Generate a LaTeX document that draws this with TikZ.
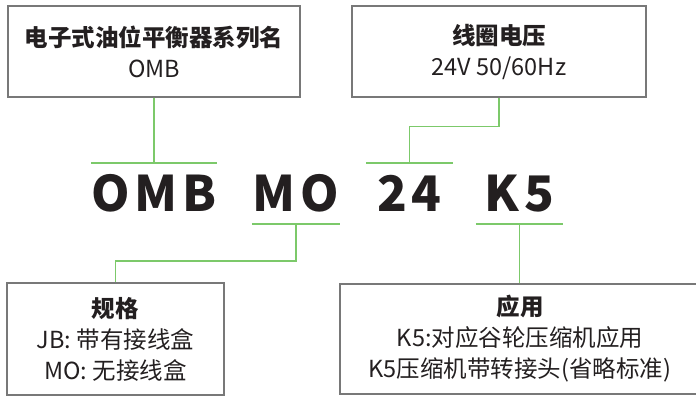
\documentclass[tikz,border=0pt]{standalone}
\usepackage{fontspec}
\setmainfont{Noto Sans CJK SC}
\usetikzlibrary{positioning,calc}
\definecolor{ink}{HTML}{231F20}
\definecolor{frame}{HTML}{787878}
\definecolor{leaf}{HTML}{7CC96A}
\newcommand{\lsp}{\hspace{0.1em}}

\begin{document}
\begin{tikzpicture}[
  x=1pt, y=-1pt,
  box/.style={
    draw=frame,
    line width=1.4pt,
    align=center,
    inner sep=0pt,
    text=ink,
    font=\fontsize{23.5}{31}\selectfont
  },
  code/.style={
    inner sep=0pt,
    minimum height=61pt,
    text=ink,
    font=\fontsize{49}{49}\selectfont\bfseries
  },
  link/.style={
    draw=leaf,
    line width=1.5pt
  }
]
\useasboundingbox (0,0) rectangle (696,396);

% Upper boxes
\node[box, minimum width=292pt, minimum height=91pt] (series) at (154,51.5)
  {\textbf{电子式油位平衡器系列名}\\OMB};
\node[box, minimum width=294pt, minimum height=91pt] (coil) at (499,51.5)
  {\textbf{线圈电压}\\24V 50/60Hz};

% Model code
\node[code, minimum width=124pt] (omb) at (154,193.5) {O\lsp M\lsp B};
\node[code, minimum width=88pt]  (mo)  at (296,193.5) {M\lsp O};
\node[code, minimum width=87pt]  (c24) at (409.5,193.5) {2\lsp 4};
\node[code, minimum width=87pt]  (k5)  at (519.5,193.5) {K\lsp 5};

% Lower boxes
\node[box, minimum width=217pt, minimum height=112pt] (spec) at (115.5,339)
  {\textbf{规格}\\JB: 带有接线盒\\MO: 无接线盒};
\node[box, minimum width=360pt, minimum height=110pt] (app) at (520,339)
  {\textbf{应用}\\K5:对应谷轮压缩机应用\\K5压缩机带转接头(省略标准)};

% Bars over / under the code
\draw[link] (omb.north west) -- (omb.north east);
\draw[link] (c24.north west) -- (c24.north east);
\draw[link] (mo.south west) -- (mo.south east);
\draw[link] (k5.south west) -- (k5.south east);

% Connectors
\draw[link] (series.south) -- (series.south |- omb.north);
\draw[link] (coil.south) -- ++(0,29) -| (c24.north);
\draw[link] (mo.south) -- ++(0,37) -| (spec.north);
\draw[link] (k5.south) -- (k5.south |- app.north);

\end{tikzpicture}
\end{document}
